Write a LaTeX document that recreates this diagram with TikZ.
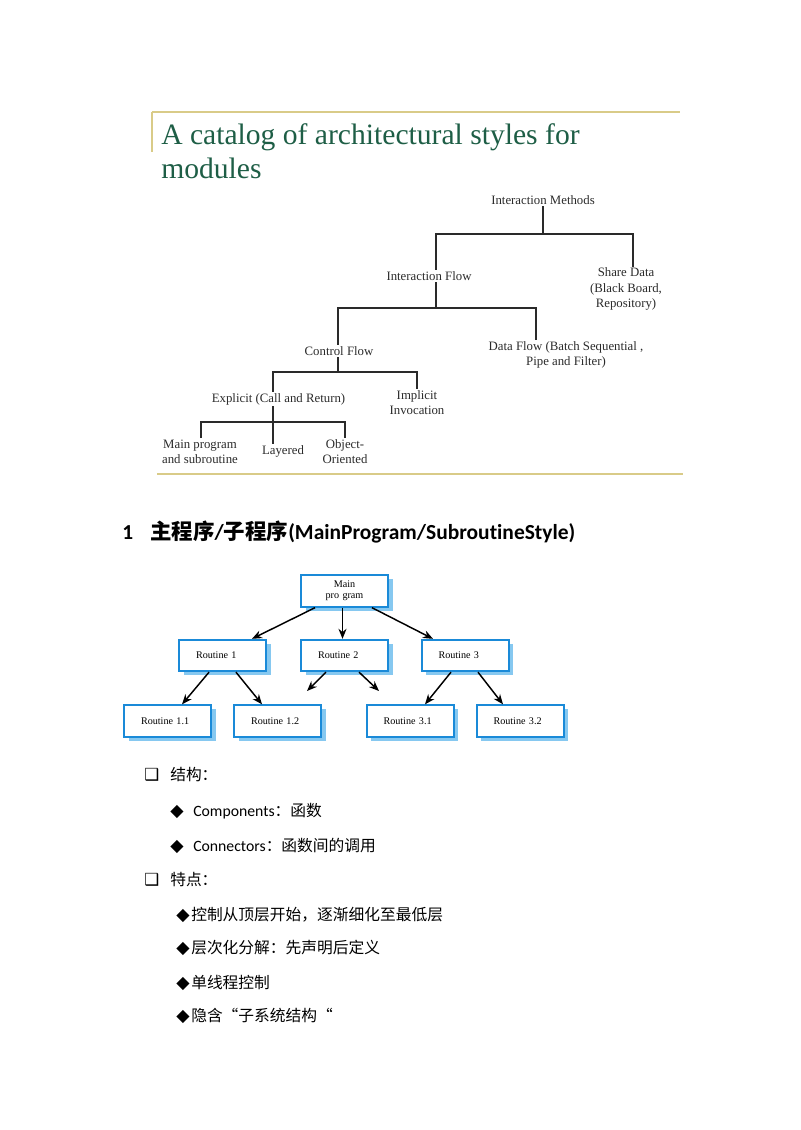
\documentclass[tikz,border=0pt]{standalone}
\usepackage{fontspec}
\setmainfont{Liberation Serif}
\newfontfamily\calib[Ligatures=NoCommon]{Carlito}
\newfontfamily\cjk{Noto Sans CJK SC}
\newfontfamily\djv{DejaVu Sans}
\usetikzlibrary{arrows.meta,shadows}
\definecolor{titlegreen}{HTML}{1E5E46}
\definecolor{gold}{HTML}{D9CB88}
\definecolor{boxblue}{HTML}{1A8AD8}
\definecolor{shadowblue}{HTML}{86C8F0}
\definecolor{treegray}{HTML}{2A2A2A}
\begin{document}
\begin{tikzpicture}[x=0.75pt,y=-0.75pt,
  treetext/.style={font=\fontsize{9.6}{11.3}\selectfont, align=center, inner sep=1pt, text=treegray},
  treeline/.style={line width=1pt, draw=treegray},
  goldline/.style={draw=gold, line width=1.4pt},
  rbox/.style={draw=boxblue, line width=1.5pt, fill=white, minimum height=23.5pt,
     text width=39.75pt, inner xsep=12.75pt, inner ysep=0pt, align=left,
     font=\fontsize{7.6}{8.6}\selectfont,
     drop shadow={fill=shadowblue, opacity=1, shadow xshift=3.4pt, shadow yshift=-3pt}},
  mbox/.style={rbox, align=center, text width=50pt, inner xsep=7.6pt},
  arr/.style={-{Stealth[length=7.5pt,width=6pt]}, line width=1.1pt},
  listtext/.style={anchor=base west, inner sep=0pt, font=\cjk\fontsize{11.8}{13}\selectfont},
  sqbullet/.style={anchor=base west, inner sep=0pt, font=\djv\fontsize{12.5}{14}\selectfont},
  dmbullet/.style={anchor=base west, inner sep=0pt, font=\djv\fontsize{13}{15}\selectfont},
]
\useasboundingbox (0,0) rectangle (800,1130);

% ---- slide frame ----
\draw[goldline] (152,112) -- (680,112);
\draw[goldline] (152,112) -- (152,152);
\draw[goldline] (157,474) -- (683,474);

\node[anchor=base west, inner sep=0pt, text=titlegreen, font=\fontsize{22.2}{26}\selectfont] (t1) at (161,145) {A catalog of architectural styles for};
\node[anchor=base west, inner sep=0pt, text=titlegreen, font=\fontsize{22.2}{26}\selectfont] (t2) at (161,179) {modules};

% ---- tree ----
\node[treetext] (im) at (543,200) {Interaction Methods};
\node[treetext] (ifl) at (429,276) {Interaction Flow};
\node[treetext] (sd) at (626,289) {Share Data\\(Black Board,\\Repository)};
\node[treetext] (cf) at (339,351) {Control Flow};
\node[treetext] (df) at (566,354.5) {Data Flow (Batch Sequential ,\\Pipe and Filter)};
\node[treetext] (ex) at (278.5,399) {Explicit (Call and Return)};
\node[treetext] (ii) at (417,402.5) {Implicit\\Invocation};
\node[treetext] (mp) at (200,451.5) {Main program\\and subroutine};
\node[treetext] (ly) at (283,451) {Layered};
\node[treetext] (oo) at (345,451.5) {Object-\\Oriented};

\coordinate (j1) at (543,234);
\coordinate (j1l) at (436,234);
\coordinate (j1r) at (633,234);
\draw[treeline] (im.south) -- (j1);
\draw[treeline] (j1l |- ifl.north) -- (j1l) -- (j1r) -- (j1r |- sd.north);

\coordinate (j2) at (436,308);
\coordinate (j2l) at (338,308);
\coordinate (j2r) at (536,308);
\draw[treeline] (j2 |- ifl.south) -- (j2);
\draw[treeline] (j2l |- cf.north) -- (j2l) -- (j2r) -- (j2r |- df.north);

\coordinate (j3) at (338,372);
\coordinate (j3l) at (273,372);
\coordinate (j3r) at (417,372);
\draw[treeline] (j3 |- cf.south) -- (j3);
\draw[treeline] (j3l |- ex.north) -- (j3l) -- (j3r) -- (j3r |- ii.north);

\coordinate (j4) at (273,422);
\coordinate (j4l) at (201,422);
\coordinate (j4r) at (345,422);
\draw[treeline] (j4 |- ex.south) -- (j4 |- ly.north);
\draw[treeline] (j4l |- mp.north) -- (j4l) -- (j4r) -- (j4r |- oo.north);

% ---- heading ----
\node[anchor=base west, inner sep=0pt, font=\calib\bfseries\fontsize{16}{19}\selectfont] (hn) at (122,539) {1};
\node[anchor=base west, inner sep=0pt, font=\fontsize{16.1}{19}\selectfont] (ht) at (150,539)
  {{\cjk\bfseries 主程序}{\calib\bfseries /}{\cjk\bfseries 子程序}{\calib\bfseries (MainProgram/SubroutineStyle)}};

% ---- structure chart ----
\node[mbox] (main) at (344.5,591) {Main\\pro gram};
\node[rbox] (r1) at (222.5,655.5) {Routine 1};
\node[rbox] (r2) at (344.5,655.5) {Routine 2};
\node[rbox] (r3) at (465,655.5) {Routine 3};
\node[rbox] (r11) at (167.5,721) {Routine 1.1};
\node[rbox] (r12) at (277.5,721) {Routine 1.2};
\node[rbox] (r31) at (410,721) {Routine 3.1};
\node[rbox] (r32) at (520,721) {Routine 3.2};

\coordinate (r2l) at (307,691);
\coordinate (r2r) at (379,691);

\draw[arr] ([xshift=-22.1pt]main.south) -- ([xshift=22.1pt]r1.north);
\draw[arr] ([xshift=-1.5pt]main.south) -- ([xshift=-1.5pt]r2.north);
\draw[arr] ([xshift=20.6pt]main.south) -- ([xshift=-24pt]r3.north);
\draw[arr] ([xshift=-10.1pt]r1.south) -- ([xshift=10.9pt]r11.north);
\draw[arr] ([xshift=10.1pt]r1.south) -- ([xshift=-11.6pt]r12.north);
\draw[arr] ([xshift=-13.9pt]r2.south) -- (r2l);
\draw[arr] ([xshift=10.9pt]r2.south) -- (r2r);
\draw[arr] ([xshift=-10.5pt]r3.south) -- ([xshift=11.25pt]r31.north);
\draw[arr] ([xshift=9.75pt]r3.south) -- ([xshift=-12.75pt]r32.north);

% ---- lists ----
\node[sqbullet] (s1) at (144,780) {❑};
\node[listtext] (l1) at (170,780) {结构：};
\node[dmbullet] (d1) at (170,816) {◆};
\node[listtext] (l2) at (193,816) {{\calib Components}：函数};
\node[dmbullet] (d2) at (170,851) {◆};
\node[listtext] (l3) at (193,851) {{\calib Connectors}：函数间的调用};
\node[sqbullet] (s2) at (144,885) {❑};
\node[listtext] (l4) at (170,885) {特点：};
\node[dmbullet] (d3) at (176,920) {◆};
\node[listtext] (l5) at (191,920) {控制从顶层开始，逐渐细化至最低层};
\node[dmbullet] (d4) at (176,953) {◆};
\node[listtext] (l6) at (191,953) {层次化分解：先声明后定义};
\node[dmbullet] (d5) at (176,988) {◆};
\node[listtext] (l7) at (191,988) {单线程控制};
\node[dmbullet] (d6) at (176,1021) {◆};
\node[listtext] (l8) at (191,1021) {隐含“子系统结构“};
\end{tikzpicture}
\end{document}
